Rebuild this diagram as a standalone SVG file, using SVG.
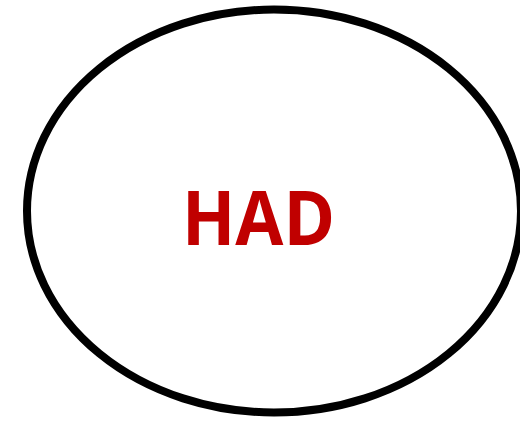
<svg xmlns="http://www.w3.org/2000/svg" width="520" height="422" viewBox="0 0 520 422">
<style>
.shape{fill:#ffffff;stroke:#000000;stroke-width:8}
.label{font-family:"Open Sans","Liberation Sans",sans-serif;font-weight:bold;fill:#C00000;text-anchor:middle}
</style>
<rect width="520" height="422" fill="#ffffff"/>
<g id="node-had">
<ellipse class="shape" cx="274" cy="211" rx="247" ry="201.5"/>
<text class="label" x="258.5" y="245" font-size="75" textLength="153" lengthAdjust="spacingAndGlyphs">HAD</text>
</g>
<g id="connectors"></g>
</svg>
